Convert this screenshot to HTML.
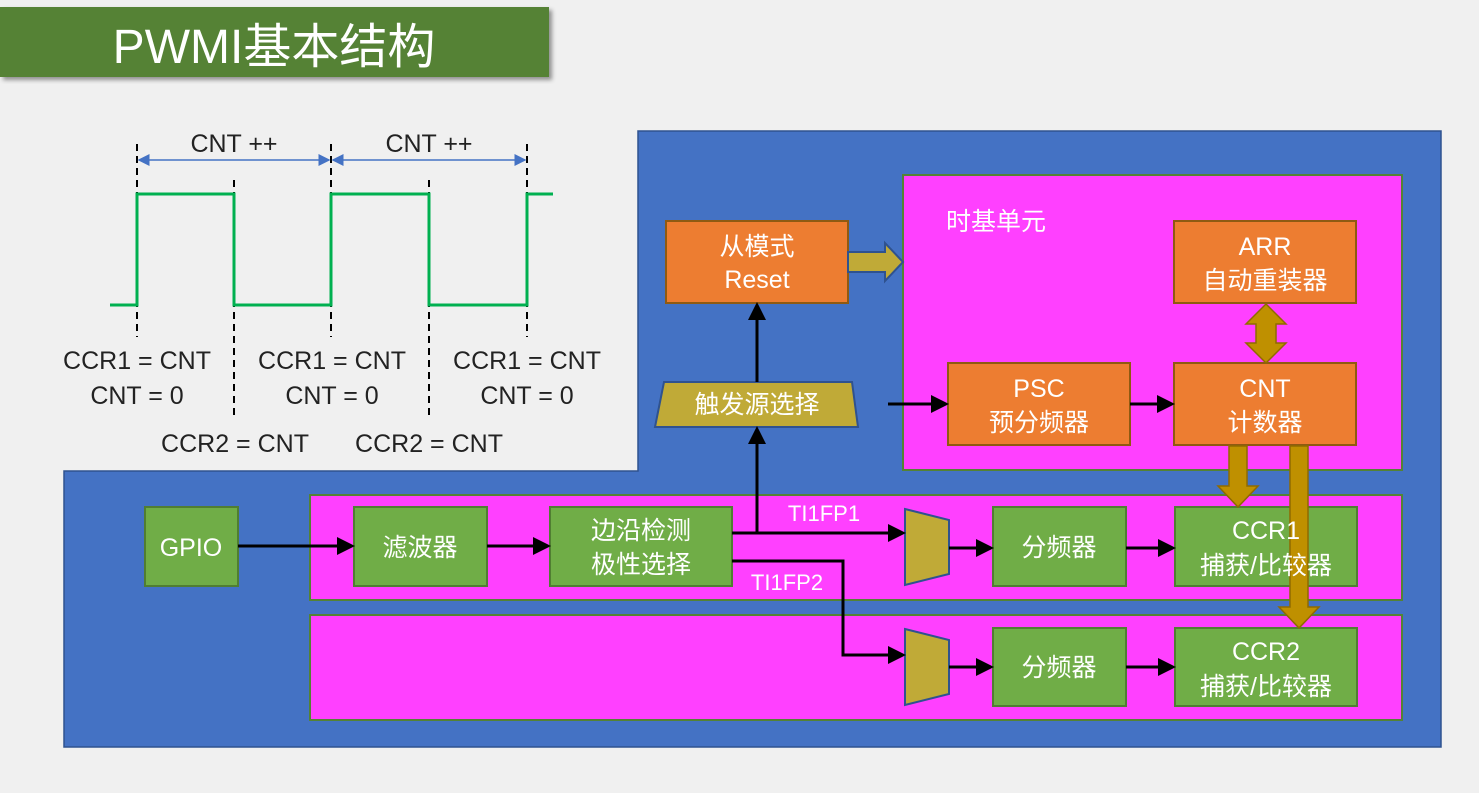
<!DOCTYPE html>
<html><head><meta charset="utf-8"><style>
html,body{margin:0;padding:0;background:#f0f0f0;}
svg{display:block;}
text{font-family:"Liberation Sans","Noto Sans CJK SC",sans-serif;}
</style></head><body>
<svg width="1479" height="793" viewBox="0 0 1479 793" xmlns="http://www.w3.org/2000/svg">
<defs>
<marker id="ah" markerWidth="6" markerHeight="6" refX="5" refY="3" orient="auto" markerUnits="strokeWidth"><path d="M0,0 L6,3 L0,6 z" fill="#000"/></marker>
<marker id="bh" markerWidth="8" markerHeight="8" refX="7" refY="4" orient="auto-start-reverse" markerUnits="strokeWidth"><path d="M0,0 L8,4 L0,8 z" fill="#4472C4"/></marker>
<filter id="sh"><feDropShadow dx="3" dy="3" stdDeviation="2" flood-color="#000" flood-opacity="0.4"/></filter>
</defs>
<rect width="1479" height="793" fill="#f0f0f0"/>
<rect x="0" y="7" width="549" height="70" fill="#548235" filter="url(#sh)"/>
<text x="274" y="63" font-size="48" fill="#fff" text-anchor="middle">PWMI基本结构</text>

<path d="M638,131 H1441 V747 H64 V471 H638 Z" fill="#4472C4" stroke="#2f528f" stroke-width="1.5"/>
<g fill="#FF40FF" stroke="#548235" stroke-width="2">
<rect x="903" y="175" width="499" height="295"/>
<rect x="310" y="495" width="1092" height="105"/>
<rect x="310" y="615" width="1092" height="105"/>
</g>
<text x="946" y="230" font-size="25" fill="#fff">时基单元</text>

<g fill="#ED7D31" stroke="#8f5a12" stroke-width="2">
<rect x="666" y="221" width="182" height="82"/>
<rect x="1174" y="221" width="182" height="82"/>
<rect x="948" y="363" width="182" height="82"/>
<rect x="1174" y="363" width="182" height="82"/>
</g>
<g fill="#70AD47" stroke="#507e32" stroke-width="2">
<rect x="145" y="507" width="93" height="79"/>
<rect x="354" y="507" width="133" height="79"/>
<rect x="550" y="507" width="182" height="79"/>
<rect x="993" y="507" width="133" height="79"/>
<rect x="993" y="628" width="133" height="78"/>
<rect x="1175" y="507" width="182" height="79"/>
<rect x="1175" y="628" width="182" height="78"/>
</g>
<g fill="#C0AA37" stroke="#2f528f" stroke-width="2">
<polygon points="664,382 852,382 858,427 655,427"/>
<polygon points="905,509 949,520 949,574 905,585"/>
<polygon points="905,629 949,640 949,694 905,705"/>
<polygon points="848,252 885,252 885,243 903,262 885,281 885,272 848,272"/>
</g>
<g fill="#BF9000" stroke="#8f6a00" stroke-width="1.5">
<polygon points="1266,304 1286,324 1276,324 1276,343 1286,343 1266,363 1246,343 1256,343 1256,324 1246,324"/>
<polygon points="1229,446 1247,446 1247,486 1258,486 1238,507 1218,486 1229,486"/>
<polygon points="1290,446 1308,446 1308,607 1319,607 1299,628 1279,607 1290,607"/>
</g>

<g font-size="25" fill="#fff" text-anchor="middle">
<text x="757" y="255">从模式</text><text x="757" y="288">Reset</text>
<text x="1265" y="255">ARR</text><text x="1265" y="289">自动重装器</text>
<text x="1039" y="397">PSC</text><text x="1039" y="431">预分频器</text>
<text x="1265" y="397">CNT</text><text x="1265" y="431">计数器</text>
<text x="757" y="413">触发源选择</text>
<text x="191" y="556">GPIO</text>
<text x="420" y="556">滤波器</text>
<text x="641" y="539">边沿检测</text><text x="641" y="573">极性选择</text>
<text x="1059" y="556">分频器</text>
<text x="1059" y="676">分频器</text>
<text x="1266" y="539">CCR1</text><text x="1266" y="574">捕获/比较器</text>
<text x="1266" y="660">CCR2</text><text x="1266" y="695">捕获/比较器</text>
<text x="824" y="521" font-size="22">TI1FP1</text>
<text x="787" y="590" font-size="22">TI1FP2</text>
</g>

<g stroke="#000" stroke-width="3" fill="none" marker-end="url(#ah)">
<line x1="238" y1="546" x2="352" y2="546"/>
<line x1="487" y1="546" x2="548" y2="546"/>
<line x1="732" y1="533" x2="903" y2="533"/>
<line x1="757" y1="533" x2="757" y2="429"/>
<line x1="757" y1="382" x2="757" y2="305"/>
<polyline points="732,561 843,561 843,655 903,655"/>
<line x1="949" y1="548" x2="991" y2="548"/>
<line x1="1126" y1="548" x2="1173" y2="548"/>
<line x1="949" y1="667" x2="991" y2="667"/>
<line x1="1126" y1="667" x2="1173" y2="667"/>
<line x1="888" y1="404" x2="946" y2="404"/>
<line x1="1130" y1="404" x2="1172" y2="404"/>
</g>

<g stroke="#000" stroke-width="2" stroke-dasharray="7,5">
<line x1="137" y1="144" x2="137" y2="337"/>
<line x1="331" y1="144" x2="331" y2="337"/>
<line x1="527" y1="144" x2="527" y2="337"/>
<line x1="234" y1="180" x2="234" y2="418"/>
<line x1="429" y1="180" x2="429" y2="418"/>
</g>
<polyline points="110,305 137,305 137,194 234,194 234,305 331,305 331,194 429,194 429,305 527,305 527,194 553,194" fill="none" stroke="#00B050" stroke-width="3"/>
<g stroke="#4472C4" stroke-width="1.5">
<line x1="139" y1="160" x2="329" y2="160" marker-start="url(#bh)" marker-end="url(#bh)"/>
<line x1="333" y1="160" x2="525" y2="160" marker-start="url(#bh)" marker-end="url(#bh)"/>
</g>
<g font-size="25" fill="#222" text-anchor="middle">
<text x="234" y="152">CNT ++</text><text x="429" y="152">CNT ++</text>
<text x="137" y="369">CCR1 = CNT</text><text x="137" y="404">CNT = 0</text>
<text x="332" y="369">CCR1 = CNT</text><text x="332" y="404">CNT = 0</text>
<text x="527" y="369">CCR1 = CNT</text><text x="527" y="404">CNT = 0</text>
<text x="235" y="452">CCR2 = CNT</text><text x="429" y="452">CCR2 = CNT</text>
</g>
</svg>
</body></html>
